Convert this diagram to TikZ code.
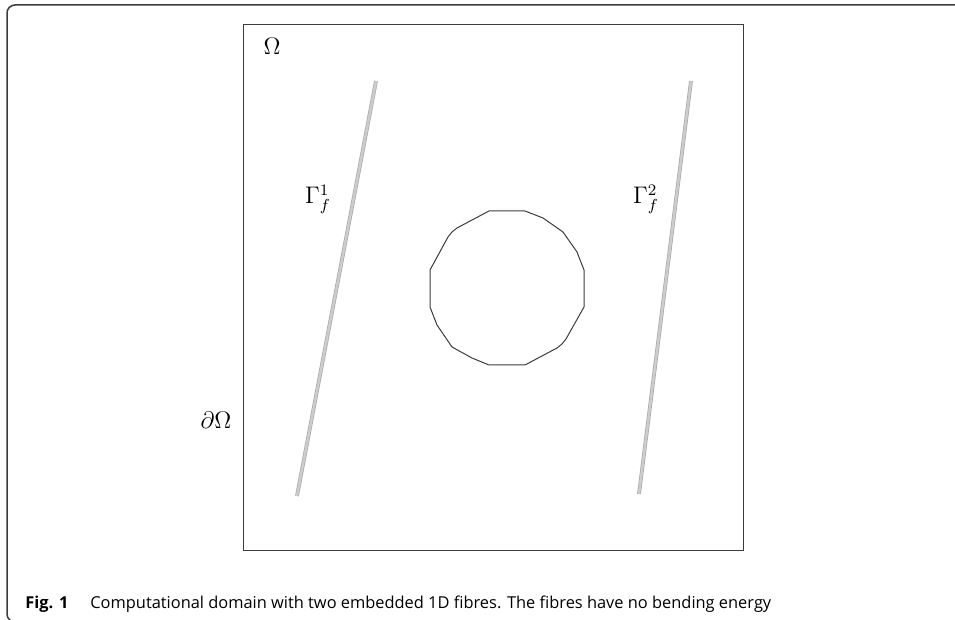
\documentclass[tikz,border=0pt]{standalone}
\usepackage{amsmath}
\usepackage{fontspec}
\newfontfamily\capfont{Open Sans}
\usetikzlibrary{positioning}
\definecolor{frm}{HTML}{3C3C3C}
\definecolor{fib}{HTML}{A8A8A8}
\definecolor{fibin}{HTML}{CDCDCD}
\tikzset{
  outer/.style={draw=frm,line width=0.75pt,rounded corners=4pt},
  dom/.style={draw=frm,line width=0.5pt},
  incl/.style={draw=frm,line width=0.5pt,line join=round},
  fibre/.style={draw=fib,double=fibin,double distance=1.2pt,line width=0.35pt},
  lab/.style={inner sep=0pt,font=\fontsize{11.7}{14}\selectfont},
  captext/.style={inner sep=0pt,anchor=base west,font=\capfont\fontsize{8.2}{10}\selectfont},
}
\begin{document}
\begin{tikzpicture}[x=0.5pt,y=-0.5pt]
\useasboundingbox (0,0) rectangle (955,620);
\begin{scope}
\clip (0,0) rectangle (955,620);
\draw[outer] (7,5) rectangle (980,622);
\end{scope}
% domain and the inclusion
\draw[dom] (243,25) rectangle (743,551);
\draw[incl] (489,211) -- (525,211) -- (543,218) -- (563,232) -- (577,252) -- (584,270)
  -- (584,307) -- (566,339) -- (562,344) -- (557,348) -- (525,365) -- (489,365)
  -- (472,358) -- (452,347) -- (437,325) -- (430,307) -- (430,270)
  -- (448,237) -- (452,232) -- (457,228) -- cycle;
% fibres
\coordinate (f1top) at (376,81); \coordinate (f1bot) at (297,496);
\coordinate (f2top) at (691,81); \coordinate (f2bot) at (639,494);
\draw[fibre] (f1top) -- (f1bot);
\draw[fibre] (f2top) -- (f2bot);
\node[lab] (om) at (272,46) {$\Omega$};
\node[lab] (g1) at (318,199) {$\Gamma_f^1$};
\node[lab] (g2) at (646,199) {$\Gamma_f^2$};
\node[lab] (bnd) at (216,420) {$\partial\Omega$};
% caption
\node[captext] (fig) at (25,609) {\bfseries Fig. 1};
\node[captext] (captxt) at (90,609) {Computational domain with two embedded 1D fibres. The fibres have no bending energy};
\end{tikzpicture}
\end{document}
